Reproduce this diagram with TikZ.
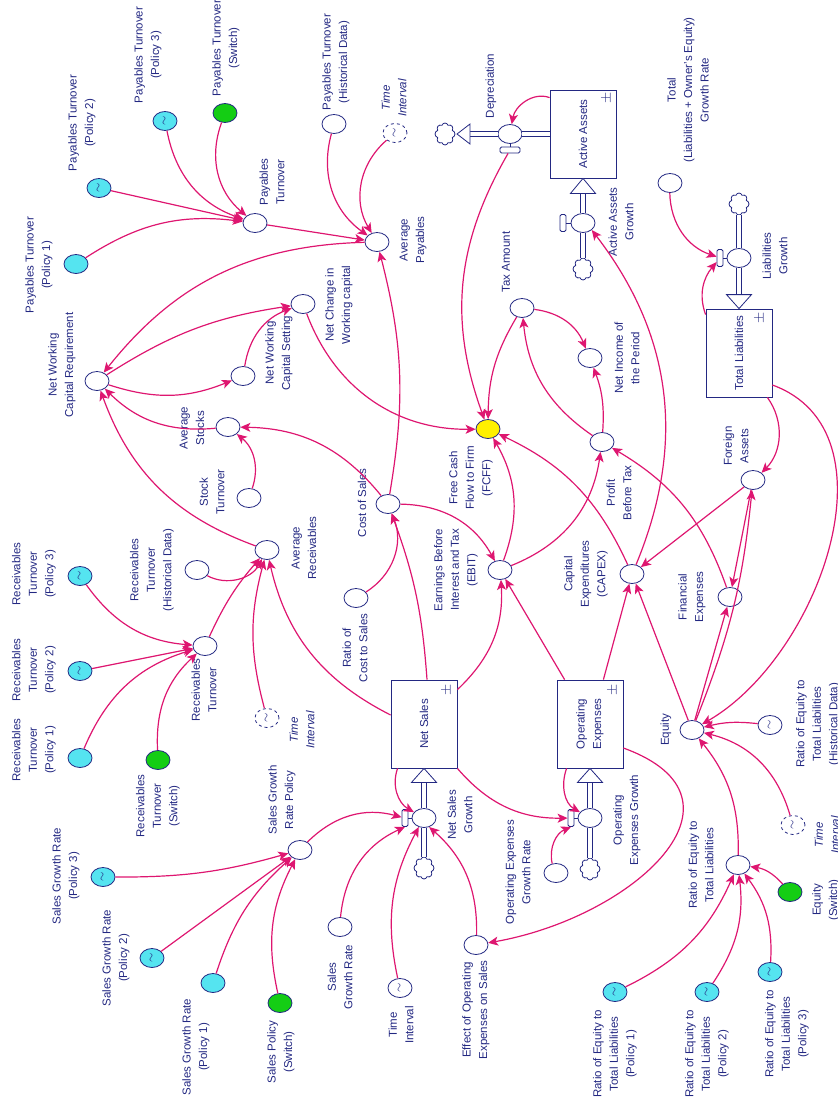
\documentclass[tikz,border=0pt]{standalone}
\usepackage{fontspec}
\setmainfont{Liberation Sans}
\usepackage{xcolor}
\usepackage{tikz}
\usetikzlibrary{arrows.meta,shapes.geometric,shapes.symbols}

\definecolor{navy}{RGB}{35,40,130}
\definecolor{mag}{RGB}{222,22,112}
\definecolor{polcyan}{RGB}{85,228,240}
\definecolor{swgreen}{RGB}{20,205,20}
\definecolor{fcffyel}{RGB}{255,240,0}
\newcommand\dfont{\fontsize{11.5}{16.5}\selectfont}
\newcommand\wv{\rotatebox{90}{\large$\sim$}}

\begin{document}
\begin{tikzpicture}[
  x=1pt, y=1pt, font=\dfont,
  varnode/.style={ellipse, draw=navy, fill=white, line width=0.8pt, minimum width=24pt, minimum height=19pt, inner sep=0pt, text=navy},
  pol/.style={varnode, fill=polcyan},
  swc/.style={varnode, fill=swgreen},
  ghost/.style={varnode, dashed},
  stockbox/.style={draw=navy, fill=white, line width=0.8pt, minimum width=66pt, minimum height=88pt, inner sep=0pt},
  handle/.style={draw=navy, fill=white, line width=0.8pt, rounded corners=1.5pt, inner sep=0pt, minimum width=6pt, minimum height=17pt},
  hhandle/.style={handle, minimum width=20pt, minimum height=6pt},
  cloudy/.style={cloud, cloud puffs=8, aspect=1, draw=navy, fill=white, line width=0.8pt, minimum width=20pt, minimum height=22pt, inner sep=0pt},
  pipe/.style={draw=navy, line width=0.8pt, double=white, double distance=3.5pt},
  pipetip/.style={draw=navy, fill=white, line width=0.8pt, line join=miter},
  stem/.style={draw=navy, line width=0.8pt},
  txt/.style={rotate=90, align=center, text=navy, inner sep=0pt},
  itxt/.style={txt, font=\dfont\itshape},
  pm/.style={rotate=90, text=navy, inner sep=0pt, font=\Large},
  link/.style={draw=mag, line width=1.2pt, -{Stealth[length=10pt,width=9pt,inset=2.5pt]}}
]
  \useasboundingbox (0,0) rectangle (838,-1101);

  % Payables
  \node[pol] (ptpa) at (76,-264) {};
  \node[pol] (ptpb) at (99,-188) {\wv};
  \node[pol] (ptpc) at (165,-121) {\wv};
  \node[swc] (ptsw) at (225,-113) {};
  \node[varnode] (pt) at (255,-223) {};
  \node[varnode] (pthd) at (334,-124) {};
  \node[ghost] (tia) at (395,-133) {\wv};
  \node[varnode] (avgp) at (377,-242) {};

  \node[txt] (lptpa) at (39,-265) {Payables Turnover\\(Policy 1)};
  \node[txt] (lptpb) at (82,-123) {Payables Turnover\\(Policy 2)};
  \node[txt] (lptpc) at (148,-55) {Payables Turnover\\(Policy 3)};
  \node[txt] (lptsw) at (226,-48) {Payables Turnover\\(Switch)};
  \node[txt] (lpt) at (272,-182) {Payables\\Turnover};
  \node[txt] (lpthd) at (336,-62) {Payables Turnover\\(Historical Data)};
  \node[itxt] (ltia) at (394,-98) {Time\\Interval};
  \node[txt] (lavgp) at (413,-240) {Average\\Payables};

  % Working capital
  \node[varnode] (nwcr) at (97,-381) {};
  \node[varnode] (nwcs) at (243,-376) {};
  \node[varnode] (ncwc) at (303,-304) {};
  \node[varnode] (avgs) at (228,-427) {};
  \node[varnode] (stt) at (249,-498) {};
  \node[varnode] (cos) at (388,-504) {};
  \node[varnode] (rcs) at (356,-598) {};

  \node[txt] (lnwcr) at (62,-365) {Net Working\\Capital Requirement};
  \node[txt] (lnwcs) at (279,-353) {Net Working\\Capital Setting};
  \node[txt] (lncwc) at (339,-305) {Net Change in\\Working capital};
  \node[txt] (lavgs) at (192,-428) {Average\\Stocks};
  \node[txt] (lstt) at (212,-492) {Stock\\Turnover};
  \node[txt] (lcos) at (362,-503) {Cost of Sales};
  \node[txt] (lrcs) at (355,-648) {Ratio of\\Cost to Sales};

  % Receivables
  \node[pol] (rtpc) at (80,-576) {\wv};
  \node[pol] (rtpb) at (80,-671) {\wv};
  \node[pol] (rtpa) at (80,-758) {};
  \node[swc] (rtsw) at (158,-760) {};
  \node[varnode] (rt) at (205,-646) {};
  \node[varnode] (rthd) at (197,-570) {};
  \node[ghost] (tib) at (267,-718) {\wv};
  \node[varnode] (avgr) at (267,-550) {};

  \node[txt] (lrtpc) at (34,-574) {Receivables\\Turnover\\(Policy 3)};
  \node[txt] (lrtpb) at (34,-670) {Receivables\\Turnover\\(Policy 2)};
  \node[txt] (lrtpa) at (34,-750) {Receivables\\Turnover\\(Policy 1)};
  \node[txt] (lrtsw) at (158,-806) {Receivables\\Turnover\\(Switch)};
  \node[txt] (lrt) at (204,-690) {Receivables\\Turnover};
  \node[txt] (lrthd) at (152,-570) {Receivables\\Turnover\\(Historical Data)};
  \node[itxt] (ltib) at (302,-730) {Time\\Interval};
  \node[txt] (lavgr) at (304,-548) {Average\\Receivables};

  % Net sales stock and its inflow
  \node[stockbox] (ns) at (424,-724) {};
  \node[txt] (lns) at (ns) {Net Sales};
  \node[pm] (pmns) at (447,-690) {$\pm$};
  \node[varnode] (nsg) at (424,-818) {};
  \node[handle] (nshd) at (405,-818) {};
  \node[cloudy] (clns) at (424,-868) {};
  \draw[pipe] (clns) -- (nsg);
  \draw[pipe] (nsg) -- ([yshift=-14pt]ns.south);
  \draw[pipetip] (ns.south) -- ++(-12.5,-14) -- ++(25,0) -- cycle;
  \draw[stem] (nshd) -- (nsg);
  \node[txt] (lnsg) at (460,-815) {Net Sales\\Growth};

  \node[varnode] (sgrp) at (300,-850) {};
  \node[pol] (sgpc) at (103,-877) {\wv};
  \node[pol] (sgpb) at (152,-958) {\wv};
  \node[pol] (sgpa) at (213,-983) {};
  \node[swc] (spsw) at (280,-1003) {};
  \node[varnode] (sgr) at (340,-927) {};
  \node[varnode] (tic) at (400,-988) {\wv};
  \node[varnode] (eff) at (476,-945) {};

  \node[txt] (lsgrp) at (282,-800) {Sales Growth\\Rate Policy};
  \node[txt] (lsgpc) at (66,-876) {Sales Growth Rate\\(Policy 3)};
  \node[txt] (lsgpb) at (116,-958) {Sales Growth Rate\\(Policy 2)};
  \node[txt] (lsgpa) at (196,-1047) {Sales Growth Rate\\(Policy 1)};
  \node[txt] (lspsw) at (281,-1052) {Sales Policy\\(Switch)};
  \node[txt] (lsgr) at (340,-977) {Sales\\Growth Rate};
  \node[txt] (ltic) at (401,-1025) {Time\\Interval};
  \node[txt] (leff) at (476,-1010) {Effect of Operating\\Expenses on Sales};

  % Operating expenses stock
  \node[stockbox] (opex) at (590,-724) {};
  \node[txt] (lopex) at (opex) {Operating\\Expenses};
  \node[pm] (pmopex) at (613,-690) {$\pm$};
  \node[varnode] (oeg) at (590,-818) {};
  \node[handle] (oehd) at (571,-818) {};
  \node[cloudy] (cloe) at (590,-869) {};
  \draw[pipe] (cloe) -- (oeg);
  \draw[pipe] (oeg) -- ([yshift=-14pt]opex.south);
  \draw[pipetip] (opex.south) -- ++(-12.5,-14) -- ++(25,0) -- cycle;
  \draw[stem] (oehd) -- (oeg);
  \node[txt] (loeg) at (627,-820) {Operating\\Expenses Growth};
  \node[varnode] (oegr) at (556,-873) {};
  \node[txt] (loegr) at (518,-872) {Operating Expenses\\Growth Rate};

  % Active assets stock
  \node[stockbox] (aa) at (583,-134) {};
  \node[txt] (laa) at (aa) {Active Assets};
  \node[pm] (pmaa) at (607,-98) {$\pm$};
  \node[varnode] (aag) at (583,-223) {};
  \node[handle] (aahd) at (563,-223) {};
  \node[cloudy] (claa) at (583,-269) {};
  \draw[pipe] (claa) -- (aag);
  \draw[pipe] (aag) -- ([yshift=-15pt]aa.south);
  \draw[pipetip] (aa.south) -- ++(-12.5,-15) -- ++(25,0) -- cycle;
  \draw[stem] (aahd) -- (aag);
  \node[txt] (laag) at (621,-222) {Active Assets\\Growth};

  \node[varnode] (dep) at (510,-134) {};
  \node[hhandle] (dephd) at (510,-150) {};
  \coordinate (dptb) at (470,-134);
  \node[cloudy] (cldp) at (445,-134) {};
  \draw[pipe] (aa.west) -- (dep);
  \draw[pipe] (dep) -- (dptb);
  \draw[pipetip] (dptb) -- ++(0,10) -- ++(-13,-10) -- ++(13,-10) -- cycle;
  \draw[stem] (dephd) -- (dep);
  \node[txt] (ldep) at (491,-86) {Depreciation};

  % Total liabilities stock
  \node[varnode] (tgr) at (670,-183) {};
  \node[txt] (ltgr) at (688,-90) {Total\\(Liabilities + Owner’s Equity)\\Growth Rate};
  \node[stockbox] (tl) at (739,-353) {};
  \node[txt] (ltl) at (tl) {Total Liabilities};
  \node[pm] (pmtl) at (760,-318) {$\pm$};
  \node[varnode] (lg) at (739,-258) {};
  \node[handle] (lghd) at (720,-258) {};
  \node[cloudy] (cllg) at (739,-204) {};
  \draw[pipe] (cllg) -- (lg);
  \draw[pipe] (lg) -- ([yshift=14pt]tl.north);
  \draw[pipetip] (tl.north) -- ++(-12.5,14) -- ++(25,0) -- cycle;
  \draw[stem] (lghd) -- (lg);
  \node[txt] (llg) at (775,-256) {Liabilities\\Growth};

  % Profit and cash flow
  \node[varnode] (tax) at (522,-308) {};
  \node[varnode] (ni) at (590,-358) {};
  \node[varnode, fill=fcffyel] (fcff) at (488,-429) {};
  \node[varnode] (pbt) at (602,-442) {};
  \node[varnode] (fa) at (753,-480) {};
  \node[varnode] (ebit) at (500,-570) {};
  \node[varnode] (capex) at (632,-574) {};
  \node[varnode] (fe) at (730,-597) {};

  \node[txt] (ltax) at (506,-262) {Tax Amount};
  \node[txt] (lni) at (627,-358) {Net Income of\\the Period};
  \node[txt] (lfcff) at (471,-478) {Free Cash\\Flow to Firm\\(FCFF)};
  \node[txt] (lpbt) at (619,-493) {Profit\\Before Tax};
  \node[txt] (lfa) at (736,-446) {Foreign\\Assets};
  \node[txt] (lebit) at (456,-570) {Earnings Before\\Interest and Tax\\(EBIT)};
  \node[txt] (lcapex) at (586,-574) {Capital\\Expenditures\\(CAPEX)};
  \node[txt] (lfe) at (692,-597) {Financial\\Expenses};

  % Equity
  \node[varnode] (eq) at (692,-730) {};
  \node[varnode] (rehd) at (770,-725) {\wv};
  \node[ghost] (tid) at (793,-825) {\wv};
  \node[varnode] (retl) at (738,-865) {};
  \node[swc] (eqsw) at (790,-892) {};
  \node[pol] (repa) at (615,-992) {\wv};
  \node[pol] (repb) at (707,-992) {\wv};
  \node[pol] (repc) at (770,-972) {\wv};

  \node[txt] (leq) at (666,-730) {Equity};
  \node[txt] (lrehd) at (818,-724) {Ratio of Equity to\\Total Liabilities\\(Historical Data)};
  \node[itxt] (ltid) at (827,-835) {Time\\Interval};
  \node[txt] (lretl) at (701,-865) {Ratio of Equity to\\Total Liabilities};
  \node[txt] (leqsw) at (826,-900) {Equity\\(Switch)};
  \node[txt] (lrepa) at (615,-1054) {Ratio of Equity to\\Total Liabilities\\(Policy 1)};
  \node[txt] (lrepb) at (707,-1054) {Ratio of Equity to\\Total Liabilities\\(Policy 2)};
  \node[txt] (lrepc) at (787,-1034) {Ratio of Equity to\\Total Liabilities\\(Policy 3)};

  % Links: payables and working capital
  \draw[link] (ptpa) to[bend left=20] (pt);
  \draw[link] (ptpb) -- (pt);
  \draw[link] (ptpc) to[bend right=30] (pt);
  \draw[link] (ptsw) to[bend right=35] (pt);
  \draw[link] (pt) -- (avgp);
  \draw[link] (pthd) to[bend right=35] (avgp);
  \draw[link] (tia) to[bend right=40] (avgp);
  \draw[link] (cos) to[bend right=12] (avgp);
  \draw[link] (avgp) to[bend right=25] (nwcr);
  \draw[link] (nwcr) to[bend left=12] (ncwc);
  \draw[link] (nwcr) to[bend right=20] (nwcs);
  \draw[link] (nwcs) to[bend left=30] (ncwc);
  \draw[link] (avgs) to[bend left=25] (nwcr);
  \draw[link] (stt) to[bend right=35] (avgs);
  \draw[link] (cos) to[bend right=25] (avgs);
  \draw[link] (avgr) to[bend left=25] (nwcr);
  \draw[link] (ncwc) to[bend right=35] (fcff);

  % Links: receivables
  \draw[link] (rtpc) to[bend right=25] (rt);
  \draw[link] (rtpb) -- (rt);
  \draw[link] (rtpa) to[bend left=25] (rt);
  \draw[link] (rtsw) to[bend left=25] (rt);
  \draw[link] (rt) to[bend left=8] (avgr);
  \draw[link] (rthd) to[bend right=45] (avgr);
  \draw[link] (tib) to[bend left=15] (avgr);
  \draw[link] ([yshift=9pt]ns.west) to[bend left=25] (avgr);

  % Links: profit and cash flow
  \draw[link] (rcs) to[bend right=40] (cos);
  \draw[link] ([xshift=3pt]ns.north) to[bend right=8] (cos);
  \draw[link] (cos) to[bend left=30] (ebit);
  \draw[link] ([yshift=-10pt]ns.north east) to[bend right=25] (ebit);
  \draw[link] ([xshift=8pt]opex.north west) -- (ebit);
  \draw[link] (ebit) to[bend right=25] (fcff);
  \draw[link] (ebit) to[bend right=30] (pbt);
  \draw[link] (dephd) to[bend right=25] (fcff);
  \draw[link] (tax) to[bend right=15] (fcff);
  \draw[link] (tax) to[bend left=30] (ni);
  \draw[link] (pbt) to[bend left=25] (tax);
  \draw[link] (pbt) to[bend right=12] (ni);
  \draw[link] (capex) to[bend right=20] (fcff);
  \draw[link] ([xshift=-20pt]opex.north east) -- (capex);
  \draw[link] (eq) -- (capex);
  \draw[link] (fa) -- (capex);
  \draw[link] (capex) to[bend right=30] (aag.south east);
  \draw[link] (eq) -- (fe);
  \draw[link] (fa) -- (fe);
  \draw[link] (eq) to[bend right=8] (fa);
  \draw[link] (fe) to[bend right=20] (pbt);

  % Links: stocks and flows
  \draw[link] ([yshift=-8pt]aa.north west) to[out=160,in=80] (dep);
  \draw[link] ([xshift=-5pt]tl.south east) to[bend left=40] (fa);
  \draw[link] ([yshift=-32pt]tl.east) to[out=-20,in=30] (eq);
  \draw[link] ([yshift=-6pt]tl.north west) to[out=110,in=-130] (lghd);
  \draw[link] (tgr) to[bend right=35] (lghd);
  \draw[link] ([xshift=7pt]ns.south west) to[out=-110,in=150] (nsg);
  \draw[link] (sgrp) to[bend left=30] (nshd);
  \draw[link] (sgr) to[bend left=30] (nshd.south);
  \draw[link] (tic) to[bend left=20] (nsg.-120);
  \draw[link] (eff) to[bend right=25] (nsg.-60);
  \draw[link] (sgpc) to[bend right=8] (sgrp);
  \draw[link] (sgpb) -- (sgrp);
  \draw[link] (sgpa) to[bend left=15] (sgrp);
  \draw[link] (spsw) to[bend left=20] (sgrp);
  \draw[link] (ns.south east) to[bend right=25] (oehd);
  \draw[link] ([xshift=10pt]opex.south west) to[out=-110,in=150] (oeg);
  \draw[link] (oegr) to[bend left=40] (oehd.south);
  \draw[link] ([yshift=-24pt]opex.east) to[out=-20,in=10,looseness=1.6] (eff);

  % Links: equity
  \draw[link] (retl) to[bend right=20] (eq);
  \draw[link] (rehd) to[bend right=10] (eq);
  \draw[link] (tid) to[bend right=30] (eq);
  \draw[link] (repa) to[bend right=20] (retl);
  \draw[link] (repb) to[bend right=20] (retl);
  \draw[link] (repc) to[bend right=20] (retl);
  \draw[link] (eqsw) to[bend right=20] (retl);
\end{tikzpicture}
\end{document}
